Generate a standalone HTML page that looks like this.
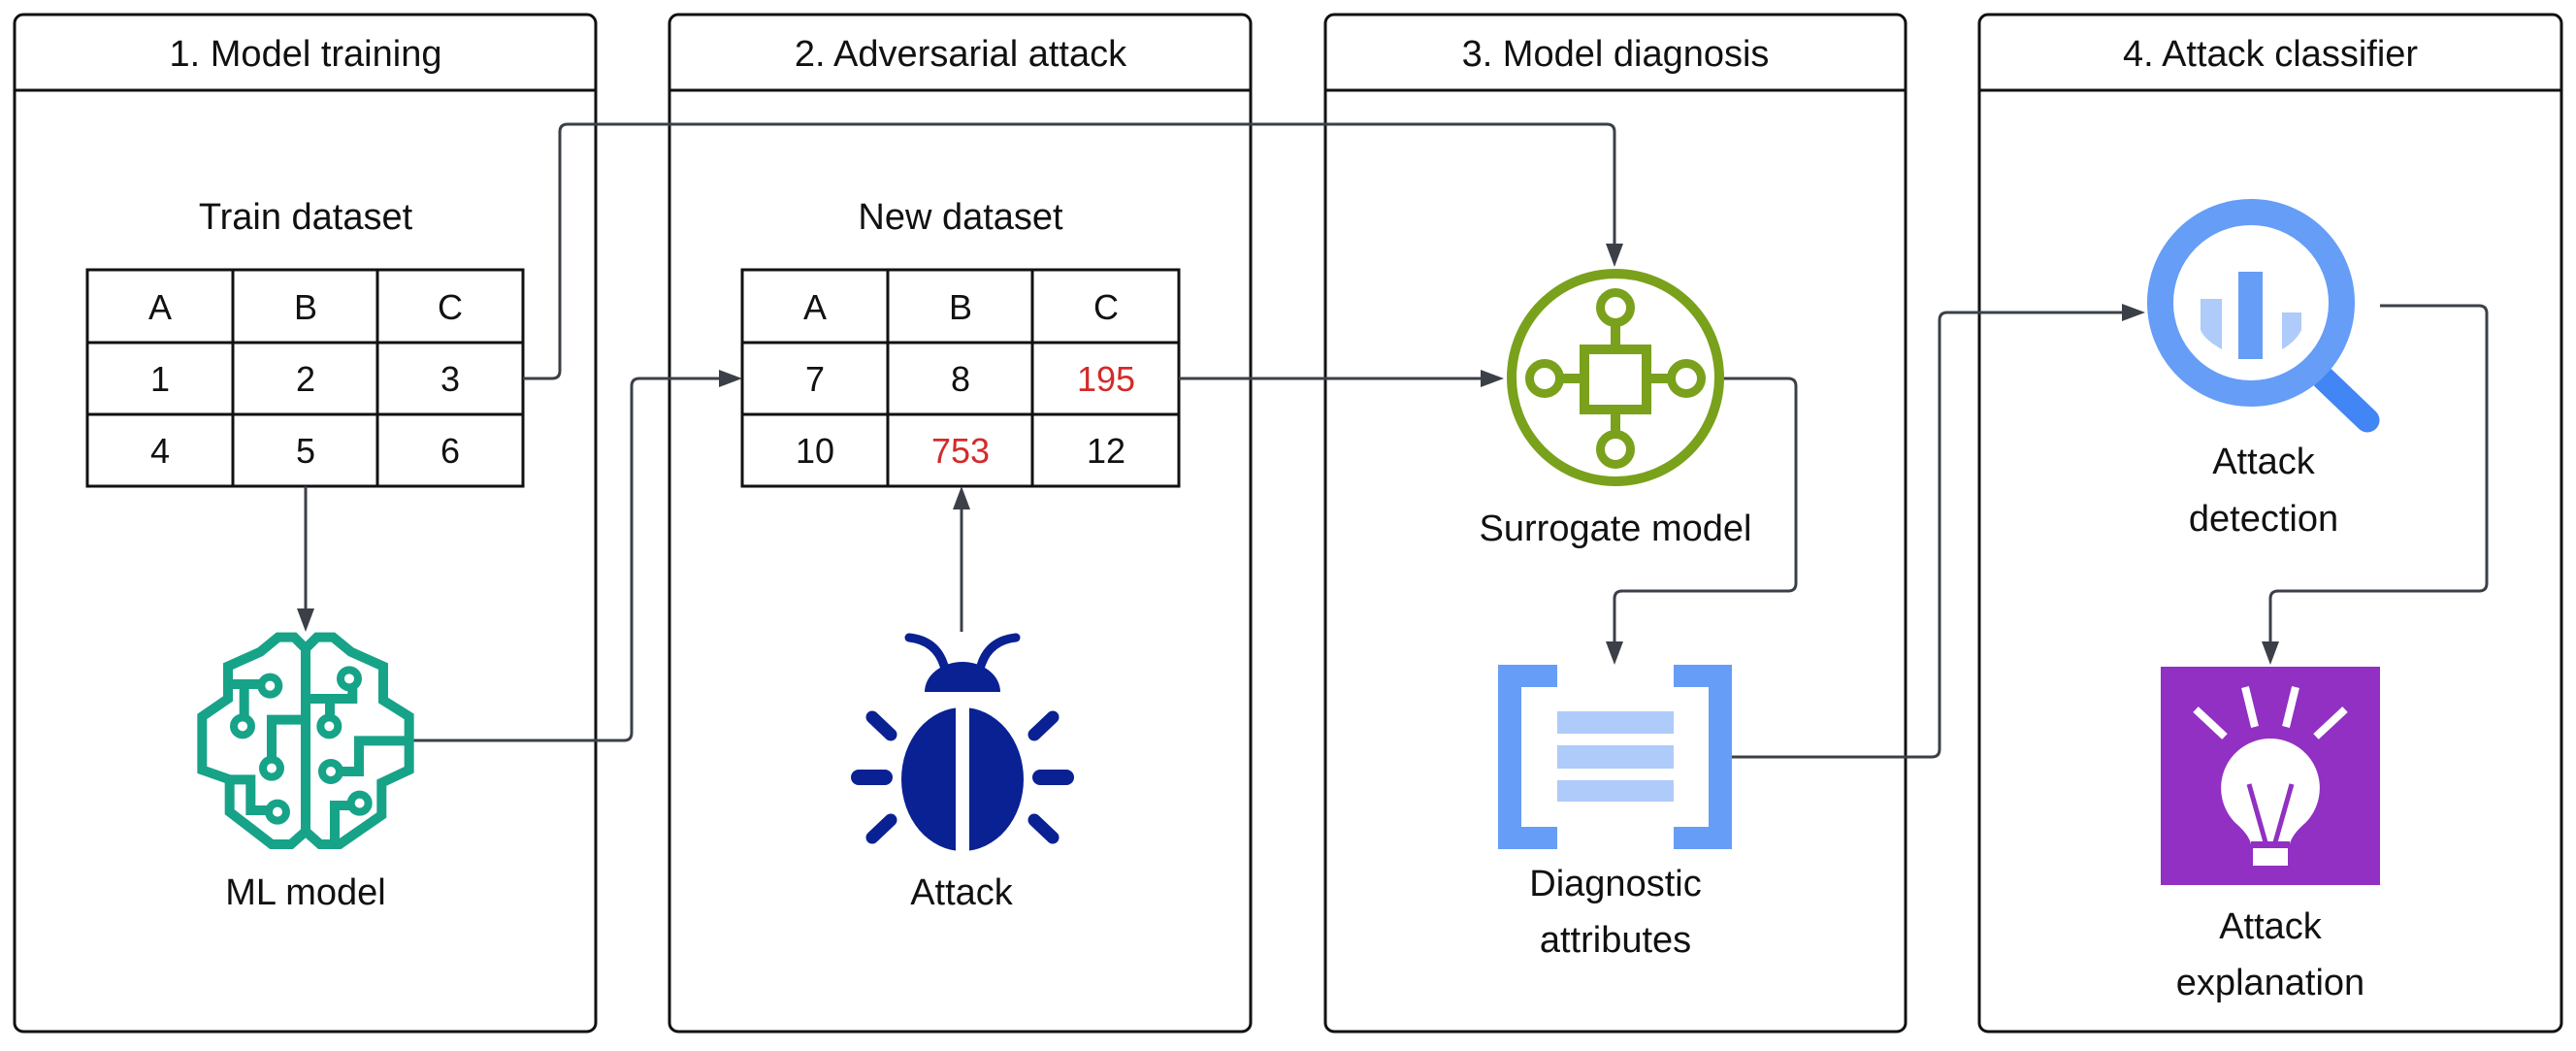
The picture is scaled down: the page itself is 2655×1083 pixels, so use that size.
<!DOCTYPE html>
<html><head><meta charset="utf-8"><style>
html,body{margin:0;padding:0;background:#fff}
svg{display:block}
text{font-family:"Liberation Sans",sans-serif;fill:#111}
</style></head><body>
<svg width="2655" height="1083" viewBox="0 0 2655 1083" xmlns="http://www.w3.org/2000/svg">
<defs>
<marker id="ar" markerWidth="10" markerHeight="10" refX="9" refY="5" orient="auto" markerUnits="userSpaceOnUse" viewBox="0 0 10 10">
</marker>
</defs>
<!-- panels -->
<g fill="none" stroke="#111" stroke-width="3">
<rect x="15" y="15" width="599" height="1048" rx="9"/>
<line x1="15" y1="93" x2="614" y2="93"/>
<rect x="690" y="15" width="599" height="1048" rx="9"/>
<line x1="690" y1="93" x2="1289" y2="93"/>
<rect x="1366" y="15" width="598" height="1048" rx="9"/>
<line x1="1366" y1="93" x2="1964" y2="93"/>
<rect x="2040" y="15" width="600" height="1048" rx="9"/>
<line x1="2040" y1="93" x2="2640" y2="93"/>
</g>
<g font-size="38" text-anchor="middle">
<text x="315" y="68">1. Model training</text>
<text x="990" y="68">2. Adversarial attack</text>
<text x="1665" y="68">3. Model diagnosis</text>
<text x="2340" y="68">4. Attack classifier</text>
<text x="315" y="236">Train dataset</text>
<text x="990" y="236">New dataset</text>
</g>
<!-- tables -->
<g fill="none" stroke="#111" stroke-width="3">
<rect x="90" y="278" width="449" height="223"/>
<line x1="240" y1="278" x2="240" y2="501"/><line x1="389" y1="278" x2="389" y2="501"/>
<line x1="90" y1="353" x2="539" y2="353"/><line x1="90" y1="427" x2="539" y2="427"/>
<rect x="765" y="278" width="450" height="223"/>
<line x1="915" y1="278" x2="915" y2="501"/><line x1="1064" y1="278" x2="1064" y2="501"/>
<line x1="765" y1="353" x2="1215" y2="353"/><line x1="765" y1="427" x2="1215" y2="427"/>
</g>
<g font-size="36" text-anchor="middle">
<text x="165" y="329">A</text><text x="315" y="329">B</text><text x="464" y="329">C</text>
<text x="165" y="403">1</text><text x="315" y="403">2</text><text x="464" y="403">3</text>
<text x="165" y="477">4</text><text x="315" y="477">5</text><text x="464" y="477">6</text>
<text x="840" y="329">A</text><text x="990" y="329">B</text><text x="1140" y="329">C</text>
<text x="840" y="403">7</text><text x="990" y="403">8</text><text x="1140" y="403" style="fill:#d42a2a">195</text>
<text x="840" y="477">10</text><text x="990" y="477" style="fill:#d42a2a">753</text><text x="1140" y="477">12</text>
</g>
<!-- connectors -->
<g fill="none" stroke="#3b4048" stroke-width="3" stroke-linejoin="round">
<path d="M539 390 H569 Q577 390 577 382 V136 Q577 128 585 128 H1656 Q1664 128 1664 136 V255"/>
<path d="M315 501 V631"/>
<path d="M424 763 H643 Q651 763 651 755 V398 Q651 390 659 390 H745"/>
<path d="M991 651 V521"/>
<path d="M1215 390 H1530"/>
<path d="M1775 390 H1843 Q1851 390 1851 398 V601 Q1851 609 1843 609 H1672 Q1664 609 1664 617 V665"/>
<path d="M1785 780 H1991 Q1999 780 1999 772 V330 Q1999 322 2007 322 H2191"/>
<path d="M2453 315 H2555 Q2563 315 2563 323 V601 Q2563 609 2555 609 H2348 Q2340 609 2340 617 V665"/>
</g>
<g fill="#3b4048">
<polygon points="1664,275 1655,251 1673,251"/>
<polygon points="315,651 306,627 324,627"/>
<polygon points="765,390 741,381 741,399"/>
<polygon points="991,501 982,525 1000,525"/>
<polygon points="1550,390 1526,381 1526,399"/>
<polygon points="1664,685 1655,661 1673,661"/>
<polygon points="2211,322 2187,313 2187,331"/>
<polygon points="2340,685 2331,661 2349,661"/>
</g>
<!-- brain -->
<g transform="translate(180,640) scale(0.3333)" fill="none" stroke="#17a388" stroke-width="30" stroke-linejoin="miter">
<path d="M405 85 L370 50 L320 50 L265 95 L165 140 L165 240 L85 295 L85 460 L170 490 L170 590 L300 690 L360 690 L405 650 L450 690 L510 690 L640 600 L640 500 L725 460 L725 295 L645 245 L645 140 L545 95 L490 50 L440 50 Z"/>
<path d="M405 85 V650"/>
<path d="M170 195 H270"/><path d="M215 195 V300"/>
<path d="M405 305 H300 V430"/>
<path d="M170 490 H235 V585 H292"/>
<path d="M405 240 H550 V205"/><path d="M480 240 V300"/>
<path d="M725 370 H570 V465 H510"/>
<path d="M495 690 V570 H545"/>
<g stroke-width="24">
<circle cx="295" cy="200" r="27"/><circle cx="210" cy="325" r="27"/><circle cx="300" cy="455" r="27"/><circle cx="318" cy="590" r="27"/>
<circle cx="540" cy="178" r="27"/><circle cx="478" cy="325" r="27"/><circle cx="483" cy="465" r="27"/><circle cx="572" cy="563" r="27"/>
</g>
</g>
<!-- bug -->
<g fill="#0a2193">
<ellipse cx="992" cy="803" rx="63" ry="74"/>
<path d="M953 713 A39 31 0 0 1 1031 713 Z"/>
<path d="M973 686 Q965 660 937 657 M1011 686 Q1019 660 1047 657" fill="none" stroke="#0a2193" stroke-width="9" stroke-linecap="round"/>
<g stroke="#0a2193" stroke-width="13" stroke-linecap="round">
<line x1="899" y1="739" x2="918" y2="757"/><line x1="1085" y1="739" x2="1066" y2="757"/>
<line x1="899" y1="863" x2="918" y2="845"/><line x1="1085" y1="863" x2="1066" y2="845"/>
<line x1="885" y1="801" x2="912" y2="801" stroke-width="16"/><line x1="1099" y1="801" x2="1072" y2="801" stroke-width="16"/>
</g>
<rect x="985" y="725" width="14" height="160" fill="#fff"/>
</g>
<!-- surrogate -->
<g fill="none" stroke="#7aa11b" stroke-width="10">
<circle cx="1665" cy="389" r="107"/>
<rect x="1633" y="360" width="64" height="62"/>
<line x1="1665" y1="333" x2="1665" y2="360"/><line x1="1665" y1="422" x2="1665" y2="447"/>
<line x1="1608" y1="390" x2="1633" y2="390"/><line x1="1697" y1="390" x2="1722" y2="390"/>
<g stroke-width="9"><circle cx="1665" cy="317" r="15.5"/><circle cx="1665" cy="463" r="15.5"/><circle cx="1592" cy="390" r="15.5"/><circle cx="1738" cy="390" r="15.5"/></g>
</g>
<g font-size="38" text-anchor="middle">
<text x="315" y="932">ML model</text>
<text x="991" y="932">Attack</text>
<text x="1665" y="557">Surrogate model</text>
<text x="1665" y="923">Diagnostic</text>
<text x="1665" y="981">attributes</text>
<text x="2333" y="488">Attack</text>
<text x="2333" y="547">detection</text>
<text x="2340" y="967">Attack</text>
<text x="2340" y="1025">explanation</text>
</g>
<!-- diagnostic -->
<g fill="#669df6">
<path d="M1544 685 H1605 V708 H1568 V852 H1605 V875 H1544 Z"/>
<path d="M1785 685 H1725 V708 H1761 V852 H1725 V875 H1785 Z"/>
</g>
<g fill="#aecbfa">
<rect x="1605" y="733" width="120" height="23"/><rect x="1605" y="768" width="120" height="24"/><rect x="1605" y="804" width="120" height="22"/>
</g>
<!-- magnifier -->
<line x1="2395" y1="390" x2="2440" y2="433" stroke="#4285f4" stroke-width="25" stroke-linecap="round"/>
<circle cx="2320" cy="312" r="93.5" fill="none" stroke="#669df6" stroke-width="27"/>
<rect x="2307" y="280" width="25" height="90" fill="#669df6"/>
<path d="M2268 308 H2290 V360 Q2272 350 2268 340 Z" fill="#aecbfa"/>
<path d="M2352 322 H2372 V340 Q2366 352 2352 360 Z" fill="#aecbfa"/>
<!-- lightbulb -->
<rect x="2227" y="687" width="226" height="225" fill="#9130c3"/>
<g stroke="#fff" stroke-width="8">
<line x1="2263" y1="731" x2="2293" y2="759"/><line x1="2314" y1="708" x2="2324" y2="749"/>
<line x1="2366" y1="708" x2="2356" y2="749"/><line x1="2417" y1="731" x2="2387" y2="759"/>
</g>
<path d="M2340 761 A51 51 0 0 1 2376 848 Q2362 860 2360 870 H2320 Q2318 860 2304 848 A51 51 0 0 1 2340 761 Z" fill="#fff"/>
<rect x="2322" y="874" width="36" height="18" fill="#fff"/>
<path d="M2318 808 L2335 868 M2362 808 L2345 868" stroke="#9130c3" stroke-width="5" fill="none"/>
<line x1="2320" y1="869" x2="2360" y2="869" stroke="#9130c3" stroke-width="4"/>
</svg>
</body></html>
